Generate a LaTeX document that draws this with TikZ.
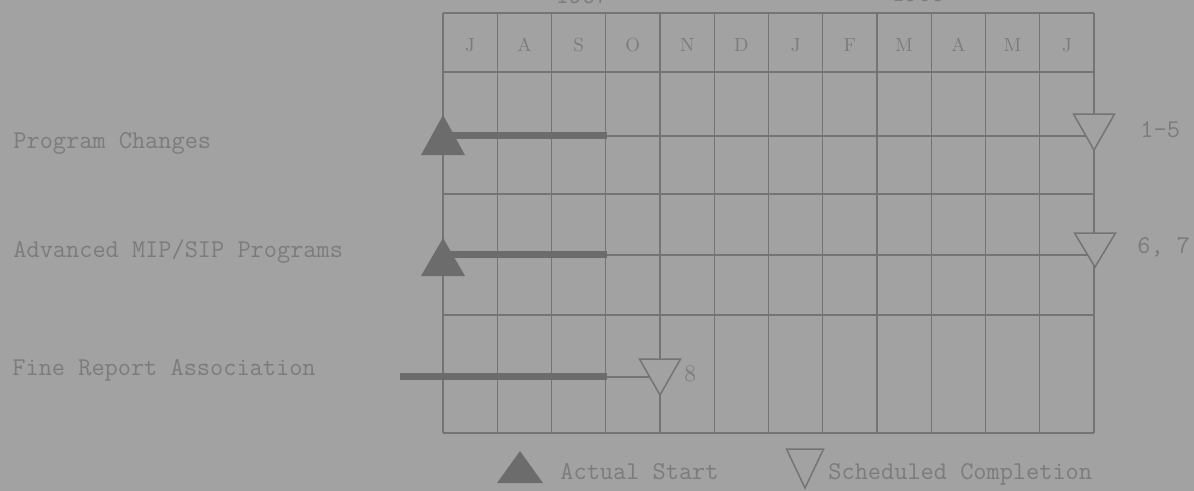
\documentclass[tikz,border=0pt]{standalone}
\usetikzlibrary{positioning,shapes.geometric,backgrounds}
\definecolor{paper}{RGB}{162,162,162}
\definecolor{pencil}{RGB}{116,116,116}
\definecolor{typed}{RGB}{124,124,124}
\definecolor{leadgray}{RGB}{108,108,108}

\begin{document}
\begin{tikzpicture}[x=0.5pt, y=-0.5pt,
  font=\ttfamily\fontsize{12.8}{14}\selectfont,
  gline/.style={draw=pencil, line width=0.7pt},
  bar/.style={draw=leadgray, line width=3.5pt},
  startmk/.style={isosceles triangle, isosceles triangle stretches,
    shape border rotate=90, fill=leadgray, inner sep=0pt,
    minimum width=22pt, minimum height=20pt, anchor=apex},
  donemk/.style={isosceles triangle, isosceles triangle stretches,
    shape border rotate=270, fill=paper, draw=pencil, line width=0.75pt,
    inner sep=0pt, minimum width=20.5pt, minimum height=18pt, anchor=apex},
  month/.style={font=\rmfamily\fontsize{9.5}{10}\selectfont, text=typed},
  tlabel/.style={anchor=base west, text=typed, inner sep=0pt}]
  \useasboundingbox (0,0) rectangle (1194,491);
  \begin{scope}[on background layer]
    \fill[paper] (0,0) rectangle (1194,491);
  \end{scope}
  % years (cut off at the top edge)
  \node[anchor=base, text=typed] (yrA) at (582,3.5) {1967};
  \node[anchor=base, text=typed] (yrB) at (918,1.5) {1968};
  % month heads
  \foreach \m [count=\i] in {J,A,S,O,N,D,J,F,M,A,M,J}
    \node[month] (m\i) at ({443+(\i-0.5)*54.25},45) {\m};
  % program changes
  \node[tlabel] (pcLabel) at (13,149) {Program Changes};
  \node[startmk] (pcStart) at (443,114) {};
  \coordinate (pcEnd) at (607,136);
  \node[donemk] (pcDone) at (1094,152) {};
  \node[tlabel] (pcNote) at (1140,138) {1-5};
  % advanced programs
  \node[tlabel] (advLabel) at (13,258) {Advanced MIP/SIP Programs};
  \node[startmk, minimum height=19pt] (advStart) at (443,237) {};
  \coordinate (advEnd) at (607,255);
  \node[donemk, minimum height=17pt] (advDone) at (1095,269) {};
  \node[tlabel] (advNote) at (1137,254) {6, 7};
  % fine report
  \node[tlabel] (frLabel) at (12,376) {Fine Report Association};
  \coordinate (frBegin) at (400,377);
  \coordinate (frEnd) at (607,377);
  \node[donemk] (frDone) at (660,397) {};
  \node[tlabel, font=\rmfamily\fontsize{12}{14}\selectfont] (frNote) at (684,382) {8};
  % key
  \node[startmk, minimum width=23pt, minimum height=16pt] (keyStart) at (520,450) {};
  \node[tlabel] (keyStartText) at (560,480) {Actual Start};
  \node[donemk, minimum width=18.5pt, minimum height=19.5pt] (keyDone) at (805,490) {};
  \node[tlabel] (keyDoneText) at (828,480) {Scheduled Completion};
  % grid, bars and leaders behind the marks
  \begin{scope}[on background layer]
    \foreach \k in {0,...,12}
      \draw[gline] ({443+\k*54.25},13) -- ({443+\k*54.25},433);
    \foreach \y in {13,72,194,315,433}
      \draw[gline] (443,\y) -- (1094,\y);
    \draw[bar] (pcEnd -| pcStart.apex) -- (pcEnd);
    \draw[bar] (advEnd -| advStart.apex) -- (advEnd);
    \draw[bar] (frBegin) -- (frEnd);
    \draw[gline] (pcEnd) -- (pcEnd -| pcDone.apex);
    \draw[gline] (advEnd) -- (advEnd -| advDone.apex);
    \draw[gline] (frEnd) -- (frEnd -| frDone.apex);
  \end{scope}
\end{tikzpicture}
\end{document}
